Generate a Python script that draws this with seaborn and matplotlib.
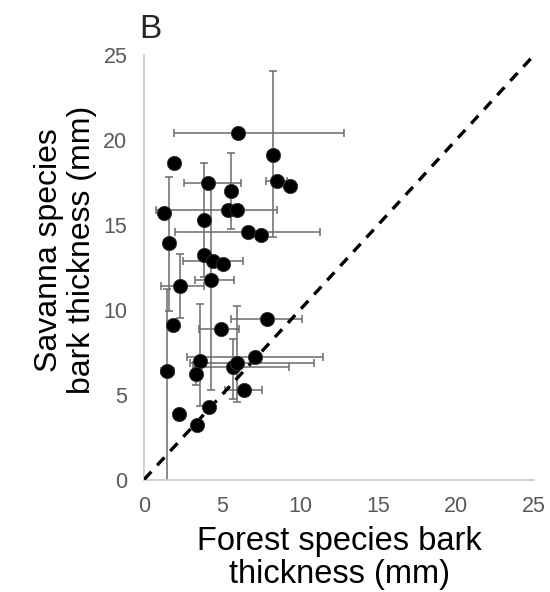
import seaborn as sns
import pandas as pd
import matplotlib.pyplot as plt
import numpy as np

# Bark thickness (mm): forest species (x) vs savanna species (y), panel B
forest = [5.99, 8.24, 1.89, 4.08, 8.49, 9.35, 5.59, 1.26, 5.36, 5.97, 3.81,
          6.64, 7.50, 1.60, 3.81, 4.44, 5.05, 4.30, 2.32, 1.87, 4.93, 7.91,
          7.12, 3.60, 1.46, 3.31, 5.70, 5.97, 6.40, 2.23, 4.19, 3.42]
savanna = [20.41, 19.11, 18.62, 17.48, 17.57, 17.28, 16.99, 15.68, 15.90, 15.86, 15.28,
           14.56, 14.43, 13.94, 13.25, 12.87, 12.71, 11.78, 11.37, 9.12, 8.88, 9.46,
           7.23, 7.00, 6.40, 6.24, 6.65, 6.85, 5.29, 3.88, 4.28, 3.23]

# error bars (lower / upper), 0 = none shown
forest_err_lo = [4.10, 0, 0, 1.51, 0.67, 0, 0, 0, 4.57, 0, 0,
                 4.67, 0, 0, 0, 1.93, 0, 1.01, 1.25, 0, 1.40, 2.31,
                 4.38, 0, 0.35, 0, 2.55, 3.04, 1.20, 0, 0, 0]
forest_err_hi = [6.85, 0, 0, 2.16, 0.65, 0, 0, 0, 3.19, 0, 0,
                 4.62, 0, 0, 0, 1.91, 0, 1.45, 1.53, 0, 1.13, 2.20,
                 4.35, 0, 0.45, 0, 3.62, 4.93, 1.15, 0, 0, 0]
savanna_err_lo = [0, 4.83, 0, 0, 0, 0, 2.25, 0, 0, 0, 3.33,
                  0, 0, 4.00, 0, 0, 0, 6.48, 1.88, 0, 0, 0,
                  0, 2.67, 7.00, 0.70, 1.92, 2.31, 0, 0, 0, 0]
savanna_err_hi = [0, 4.93, 0, 0, 0, 0, 2.26, 0, 0, 0, 3.38,
                  0, 0, 3.87, 0, 0, 0, 5.69, 1.94, 0, 0, 0,
                  0, 3.31, 4.83, 0.70, 1.62, 3.37, 0, 0, 0, 0]

df = pd.DataFrame({'forest': forest, 'savanna': savanna})

sns.set_style('white')
plt.rcParams['font.family'] = ['Liberation Sans', 'DejaVu Sans']

fig = plt.figure(figsize=(5.5, 5.92), dpi=100)
ax = fig.add_axes([0.262, 0.19, 0.709, 0.717])

ax.errorbar(df['forest'], df['savanna'],
            xerr=[forest_err_lo, forest_err_hi],
            yerr=[savanna_err_lo, savanna_err_hi],
            fmt='none', ecolor='#6b6b6b', elinewidth=1.1, capsize=3.2,
            capthick=1.1, zorder=2)

# 1:1 line
ax.plot([0, 25], [0, 25], color='black', linestyle=(0, (3.2, 2.6)), linewidth=2.4, zorder=3)

sns.scatterplot(data=df, x='forest', y='savanna', ax=ax, color='black',
                s=105, edgecolor='#333333', linewidth=0.6, zorder=4)

ax.set_xlim(0, 25)
ax.set_ylim(0, 25)
ax.set_xticks(range(0, 26, 5))
ax.set_yticks(range(0, 26, 5))
for s in ['top', 'right']:
    ax.spines[s].set_visible(False)
for s in ['left', 'bottom']:
    ax.spines[s].set_color('#c8c8c8')
    ax.spines[s].set_linewidth(1.2)
ax.tick_params(axis='both', direction='out', length=6, width=1.2, color='#c8c8c8',
               labelsize=15.5, labelcolor='#595959', pad=6)

ax.set_xlabel('Forest species bark\nthickness (mm)', fontsize=23.5, color='black',
              labelpad=6, linespacing=1.12)
ax.set_ylabel('Savanna species\nbark thickness (mm)', fontsize=23, color='black',
              linespacing=1.15)
ax.yaxis.set_label_coords(-0.12, 0.54)

fig.text(0.253, 0.976, 'B', fontsize=24, va='top', ha='left')

plt.savefig('out.png', dpi=100)
